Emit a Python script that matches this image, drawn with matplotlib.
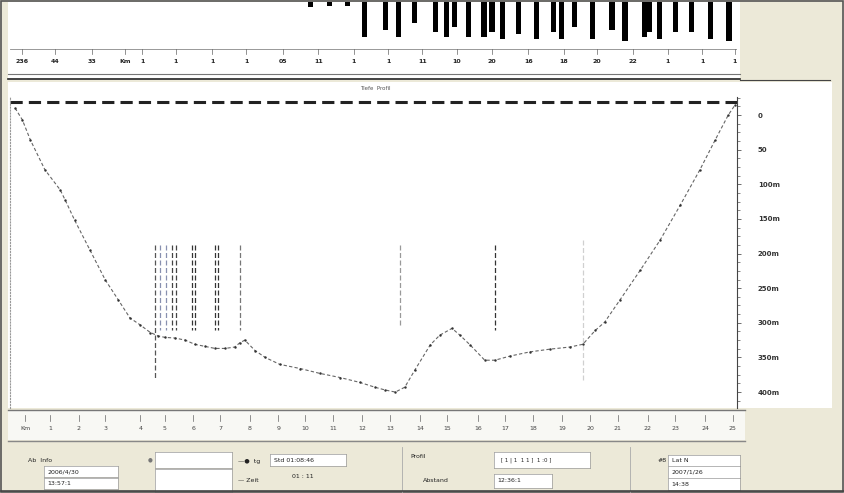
import numpy as np
import matplotlib
matplotlib.use('Agg')
import matplotlib.pyplot as plt
from matplotlib.patches import Rectangle

plt.rcParams['font.family'] = ['DejaVu Sans']
plt.rcParams['font.size'] = 5

W, H = 844, 493

# profile along the track (distance km, depth m)
dist_km = [0.7, 1.7, 2.8, 4.8, 6.9, 7.6, 8.9, 11.0, 13.1, 14.9, 16.5, 17.9, 19.3, 20.4,
           21.3, 22.7, 24.1, 25.4, 26.8, 28.2, 29.6, 30.9, 31.6, 32.3, 33.7, 35.1, 37.1,
           39.9, 42.6, 45.4, 48.1, 50.2, 51.6, 53.0, 54.3, 55.7, 57.8, 59.1, 60.8, 61.9,
           63.3, 65.3, 66.7, 68.8, 71.5, 74.3, 77.0, 78.8, 80.5, 81.8, 83.9, 86.7, 89.4,
           92.2, 94.9, 97.0, 98.8, 99.7]
depth_m = [-10, 7, 36, 79, 108, 123, 152, 195, 238, 267, 293, 303, 314, 319,
           321, 322, 325, 331, 334, 337, 337, 335, 329, 325, 340, 350, 360,
           366, 373, 379, 386, 393, 397, 400, 393, 368, 332, 318, 308, 318,
           332, 354, 354, 348, 342, 338, 335, 331, 311, 299, 267, 224, 181,
           130, 79, 36, 0, -14]

# marked events (vertical dashed lines)
event_km = [19.9, 20.6, 21.5, 22.3, 22.8, 25.0, 25.4, 28.2, 28.6, 31.6, 53.6, 66.7, 78.8]
event_top = [188, 188, 188, 188, 188, 188, 188, 188, 188, 188, 188, 188, 181]
event_bot = [380, 311, 311, 311, 311, 311, 311, 311, 311, 311, 303, 311, 382]
event_col = ['#555555', '#8890b0', '#8890b0', '#444444', '#444444', '#333333', '#333333',
             '#333333', '#333333', '#777777', '#999999', '#333333', '#d0d0d0']

# signal spikes in the top strip
spike_km = [41.3, 44.0, 46.4, 48.8, 51.6, 53.5, 55.7, 58.5, 60.1, 61.1, 63.1, 65.2, 66.3,
            67.8, 70.0, 72.4, 74.7, 75.9, 77.6, 80.1, 82.8, 84.6, 87.3, 88.0, 89.3, 91.6,
            93.8, 96.4, 98.9]
spike_amp = [0.1, 0.08, 0.08, 0.75, 0.6, 0.75, 0.45, 0.65, 0.75, 0.55, 0.75, 0.75, 0.65,
             0.8, 0.7, 0.8, 0.65, 0.8, 0.55, 0.8, 0.6, 0.85, 0.75, 0.65, 0.8, 0.65,
             0.65, 0.8, 0.85]

depth_ticks = [0, 50, 100, 150, 200, 250, 300, 350, 400]
depth_labels = ['0', '50', '100m', '150m', '200m', '250m', '300m', '350m', '400m']

top_tick_km = [1.65, 6.2, 11.3, 15.8, 18.2, 22.8, 27.8, 32.5, 37.6, 42.4, 47.3, 52.0, 56.7,
               61.5, 66.3, 71.3, 76.2, 80.7, 85.7, 90.5, 95.2, 99.7]
top_tick_labels = ['236', '44', '33', 'Km', '1', '1', '1', '1', '05', '11', '1', '1',
                   '11', '10', '20', '16', '18', '20', '22', '1', '1', '1']

bot_tick_km = [2.1, 5.5, 9.4, 13.1, 17.9, 21.3, 25.2, 28.9, 33.0, 36.9, 40.6, 44.4, 48.4,
               52.3, 56.4, 60.1, 64.4, 68.1, 71.9, 75.9, 79.8, 83.6, 87.7, 91.5, 95.6, 99.4]
bot_tick_labels = ['Km', '1', '2', '3', '4', '5', '6', '7', '8', '9', '10', '11', '12',
                   '13', '14', '15', '16', '17', '18', '19', '20', '21', '22', '23', '24', '25']


def box(x0, y0, x1, y1):
    return [x0 / W, 1 - y1 / H, (x1 - x0) / W, (y1 - y0) / H]


def blank(ax, fc='white'):
    ax.set_facecolor(fc)
    ax.set_xticks([])
    ax.set_yticks([])
    for s in ax.spines.values():
        s.set_visible(False)


fig = plt.figure(figsize=(W / 100, H / 100), dpi=100, facecolor='#ECE9D8')

# white backgrounds
bg = fig.add_axes(box(8, 82, 832, 408))
blank(bg)
bg2 = fig.add_axes(box(8, 2, 740, 80))
blank(bg2)

# top strip with spikes
strip = fig.add_axes(box(10, 2, 737, 48))
blank(strip)
strip.set_xlim(0, 100)
strip.set_ylim(1, 0)
strip.bar(spike_km, spike_amp, width=0.7, bottom=0, color='black')

# top ruler
rul = fig.add_axes(box(10, 48, 737, 72))
blank(rul)
rul.set_xlim(0, 100)
rul.set_ylim(0, 1)
rul.axhline(0.95, color='#888888', lw=0.6)
for k, lab in zip(top_tick_km, top_tick_labels):
    rul.plot([k, k], [0.95, 0.75], color='#666666', lw=0.5)
    rul.text(k, 0.42, lab, ha='center', va='center', fontsize=4.5, color='#222222',
             fontweight='bold')
fig.add_artist(plt.Line2D([8 / W, 740 / W], [1 - 74 / H, 1 - 74 / H], color='#777777', lw=0.8))
fig.add_artist(plt.Line2D([8 / W, 740 / W], [1 - 79 / H, 1 - 79 / H], color='#222222', lw=1.2))
fig.add_artist(plt.Line2D([740 / W, 830 / W], [1 - 80 / H, 1 - 80 / H], color='#444444', lw=0.8))
fig.text(375 / W, 1 - 89 / H, 'Tiefe  Profil', ha='center', va='center', fontsize=4, color='#555555')

# main profile
ax = fig.add_axes(box(10, 97, 737, 408))
ax.set_facecolor('white')
ax.set_xlim(0, 100)
ax.set_ylim(423, -26)
for s in ['top', 'bottom']:
    ax.spines[s].set_visible(False)
ax.spines['left'].set_linestyle(':')
ax.spines['left'].set_color('#999999')
ax.spines['right'].set_color('#444444')
ax.spines['right'].set_linewidth(0.8)
ax.yaxis.tick_right()
ax.set_yticks(depth_ticks)
ax.set_yticklabels(depth_labels, fontweight='bold')
ax.set_yticks(np.arange(-25, 425, 12.5), minor=True)
ax.tick_params(axis='y', which='major', length=3, width=0.5, pad=12, labelsize=5, colors='#333333')
ax.tick_params(axis='y', which='minor', length=2, width=0.5, color='#555555')
ax.set_xticks([])

ax.axhline(-19, color='#222222', lw=2.2, ls=(0, (4, 2)))
for k, t, b, c in zip(event_km, event_top, event_bot, event_col):
    ax.plot([k, k], [t, b], color=c, lw=0.9, ls=(0, (4, 2)))
ax.plot(dist_km, depth_m, color='#666666', lw=0.8, ls=(0, (3, 2)), marker='.', ms=1.5,
        mec='#333333', mfc='#333333')

# bottom ruler
fig.add_artist(plt.Line2D([8 / W, 745 / W], [1 - 410 / H, 1 - 410 / H], color='#777777', lw=1.0))
rb = fig.add_axes(box(8, 411, 745, 440))
blank(rb, '#f8f8f4')
rb.set_xlim(-0.3, 101.1)
rb.set_ylim(0, 1)
for k, lab in zip(bot_tick_km, bot_tick_labels):
    rb.plot([k, k], [0.85, 0.65], color='#666666', lw=0.5)
    rb.text(k, 0.4, lab, ha='center', va='center', fontsize=4.5, color='#444444')
fig.add_artist(plt.Line2D([8 / W, 745 / W], [1 - 441 / H, 1 - 441 / H], color='#888888', lw=1.0))


# bottom controls
def field(x0, y0, x1, y1, txt='', fs=4.5):
    a = fig.add_axes(box(x0, y0, x1, y1))
    blank(a)
    for s in a.spines.values():
        s.set_visible(True)
        s.set_color('#999999')
        s.set_linewidth(0.5)
    if txt:
        a.text(0.05, 0.5, txt, ha='left', va='center', fontsize=fs, color='#222222')
    return a


fig.text(28 / W, 1 - 460 / H, 'Ab  Info', fontsize=4.5, va='center', color='#222222')
field(44, 466, 118, 477, '2006/4/30')
field(44, 478, 118, 489, '13:57:1')
fig.text(148 / W, 1 - 460 / H, '\u25cf', fontsize=4, va='center', color='#777777')
field(155, 452, 232, 468)
field(155, 469, 232, 492)
fig.text(238 / W, 1 - 462 / H, '\u2014\u25cf  tg', fontsize=4.5, va='center', color='#222222')
fig.text(238 / W, 1 - 480 / H, '\u2014 Zeit', fontsize=4.5, va='center', color='#222222')
field(270, 454, 346, 466, 'Std 01:08:46')
fig.text(292 / W, 1 - 477 / H, '01 : 11', fontsize=4.5, va='center', color='#222222')
fig.add_artist(plt.Line2D([402 / W, 402 / W], [1 - 447 / H, 1 - 492 / H], color='#aaaaaa', lw=0.6))
fig.text(410 / W, 1 - 456 / H, 'Profil', fontsize=4.5, va='center', color='#222222')
fig.text(423 / W, 1 - 480 / H, 'Abstand', fontsize=4.5, va='center', color='#222222')
field(494, 452, 590, 468, ' [ 1 | 1  1 1 ]  1 :0 ]', fs=4)
field(494, 474, 552, 488, '12:36:1')
fig.add_artist(plt.Line2D([630 / W, 630 / W], [1 - 447 / H, 1 - 492 / H], color='#aaaaaa', lw=0.6))
fig.text(658 / W, 1 - 461 / H, '#8', fontsize=4.5, va='center', color='#222222')
field(668, 455, 740, 466, 'Lat N')
field(668, 466, 740, 478, '2007/1/26')
field(668, 478, 740, 490, '14:38')

# outer frame
fig.add_artist(Rectangle((0.001, 0.002), 0.998, 0.996, transform=fig.transFigure,
                         fill=False, ec='#555555', lw=1.2))
fig.add_artist(plt.Line2D([1 / W, 845 / W], [1 - 491 / H, 1 - 491 / H], color='#444444', lw=1.2))

fig.savefig('out.png', dpi=100, facecolor=fig.get_facecolor())
